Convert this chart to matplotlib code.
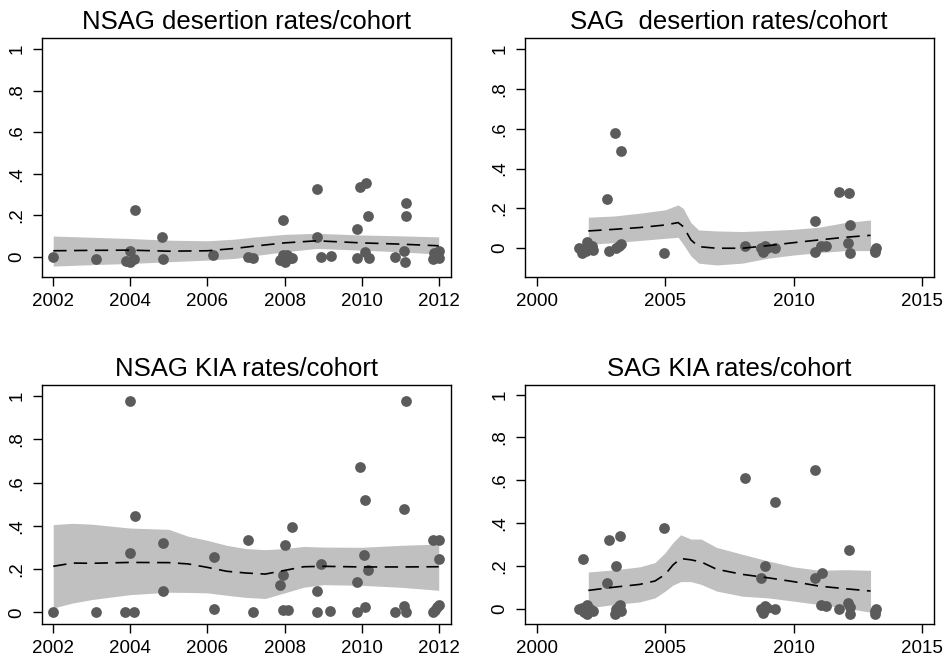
import numpy as np
import matplotlib
matplotlib.use("Agg")
import matplotlib.pyplot as plt

plt.rcParams['font.family'] = ['Liberation Sans', 'DejaVu Sans']

# NSAG desertion rates per cohort
nsag_des_year = [2002.0, 2003.12, 2003.9, 2004.0, 2004.1, 2004.0, 2004.12, 2004.83, 2004.85,
                 2006.15, 2007.06, 2007.19, 2007.97, 2007.87, 2007.97, 2008.07, 2008.14, 2008.2,
                 2008.0, 2008.83, 2008.85, 2008.94, 2009.2, 2009.89, 2009.89, 2009.96, 2010.11,
                 2010.09, 2010.16, 2010.19, 2010.87, 2011.14, 2011.14, 2011.1, 2011.12,
                 2011.84, 2011.87, 2012.0, 2012.02, 2011.93]
nsag_des_rate = [0.0, -0.01, -0.02, 0.03, -0.01, -0.025, 0.225, 0.096, -0.013,
                 0.008, 0.0, -0.008, 0.177, -0.015, 0.01, 0.01, -0.005, -0.005,
                 -0.025, 0.326, 0.096, 0.0, 0.005, 0.135, -0.005, 0.338, 0.357,
                 0.024, 0.196, -0.005, 0.0, 0.257, 0.198, 0.029, -0.024,
                 -0.01, 0.016, 0.03, -0.005, 0.008]
nsag_des_fit_x = [2002, 2003, 2004, 2005, 2006, 2006.7, 2007.2, 2008, 2008.83, 2010, 2011, 2012]
nsag_des_fit = [0.029, 0.031, 0.032, 0.027, 0.029, 0.04, 0.051, 0.067, 0.077, 0.067, 0.061, 0.053]
nsag_des_hi = [0.10, 0.094, 0.088, 0.08, 0.077, 0.085, 0.095, 0.108, 0.113, 0.105, 0.101, 0.096]
nsag_des_lo = [-0.045, -0.038, -0.032, -0.024, -0.016, -0.008, 0.005, 0.024, 0.04, 0.032, 0.024, 0.013]

# SAG desertion rates per cohort
sag_des_year = [2001.65, 2001.75, 2001.95, 2002.08, 2002.2, 2001.9, 2002.15, 2002.73, 2002.79,
                2003.03, 2003.29, 2003.09, 2003.18, 2003.27, 2004.94, 2008.12, 2008.74,
                2008.79, 2008.9, 2008.96, 2009.26, 2010.82, 2010.84, 2011.08, 2011.26,
                2011.78, 2012.17, 2012.21, 2012.14, 2012.18, 2013.16, 2013.22, 2013.18]
sag_des_rate = [0.0, -0.025, 0.033, 0.0, -0.008, -0.012, 0.01, 0.248, -0.012,
                0.578, 0.491, 0.0, 0.012, 0.02, -0.025, 0.012, 0.0,
                -0.017, 0.012, 0.0, 0.0, 0.139, -0.02, 0.012, 0.012,
                0.285, 0.276, 0.117, 0.028, -0.025, -0.02, 0.0, -0.01]
sag_des_fit_x = [2002, 2003, 2004, 2005, 2005.5, 2005.7, 2006, 2006.3, 2007, 2008, 2009, 2010, 2011, 2012, 2013]
sag_des_fit = [0.087, 0.095, 0.104, 0.117, 0.129, 0.109, 0.042, 0.008, 0.0, 0.0, 0.013, 0.028, 0.042, 0.055, 0.065]
sag_des_hi = [0.156, 0.162, 0.176, 0.193, 0.218, 0.2, 0.129, 0.092, 0.087, 0.084, 0.089, 0.095, 0.106, 0.129, 0.142]
sag_des_lo = [0.02, 0.028, 0.039, 0.05, 0.055, 0.02, -0.039, -0.075, -0.084, -0.075, -0.05, -0.034, -0.022, -0.012, -0.012]

# NSAG killed-in-action rates per cohort
nsag_kia_year = [2002.0, 2003.12, 2003.86, 2004.09, 2003.99, 2004.12, 2004.0, 2004.85, 2004.84,
                 2006.17, 2006.18, 2007.06, 2007.19, 2007.88, 2007.97, 2008.01, 2008.19,
                 2007.95, 2008.1, 2008.83, 2008.94, 2008.83, 2009.18, 2009.96, 2009.89,
                 2009.89, 2010.09, 2010.07, 2010.16, 2010.1, 2010.87, 2011.14, 2011.11,
                 2011.1, 2011.15, 2011.84, 2012.02, 2012.02, 2011.84, 2011.91, 2011.96, 2012.02]
nsag_kia_rate = [0.0, 0.0, 0.0, 0.0, 0.977, 0.444, 0.275, 0.321, 0.097,
                 0.258, 0.015, 0.333, 0.0, 0.125, 0.174, 0.313, 0.395,
                 0.009, 0.009, 0.097, 0.224, 0.0, 0.008, 0.671, 0.139,
                 0.0, 0.522, 0.265, 0.194, 0.023, 0.0, 0.977, 0.478,
                 0.028, 0.0, 0.333, 0.333, 0.248, 0.0, 0.012, 0.023, 0.032]
nsag_kia_fit_x = [2002, 2002.5, 2003, 2004, 2005, 2005.5, 2006, 2006.5, 2007, 2007.5, 2008, 2008.5, 2009, 2010, 2011, 2012]
nsag_kia_fit = [0.213, 0.228, 0.227, 0.231, 0.23, 0.224, 0.208, 0.19, 0.182, 0.177, 0.194, 0.211, 0.213, 0.21, 0.21, 0.211]
nsag_kia_hi = [0.406, 0.412, 0.408, 0.39, 0.384, 0.352, 0.333, 0.31, 0.295, 0.29, 0.295, 0.305, 0.302, 0.301, 0.31, 0.316]
nsag_kia_lo = [0.02, 0.043, 0.059, 0.082, 0.093, 0.092, 0.09, 0.079, 0.069, 0.064, 0.09, 0.116, 0.128, 0.125, 0.116, 0.102]

# SAG killed-in-action rates per cohort
sag_kia_year = [2001.79, 2001.65, 2001.75, 2001.95, 2001.95, 2002.08, 2002.2, 2001.85,
                2002.79, 2002.73, 2003.09, 2003.22, 2003.03, 2003.09, 2003.18, 2003.27, 2003.22,
                2004.94, 2008.12, 2008.74, 2008.9, 2008.74, 2008.79, 2008.9, 2008.96,
                2009.26, 2009.26, 2010.84, 2010.82, 2011.1, 2011.08, 2011.26, 2011.78,
                2012.17, 2012.14, 2012.21, 2012.18, 2013.16, 2013.22, 2013.18]
sag_kia_rate = [0.234, 0.0, 0.003, 0.019, -0.024, 0.0, -0.012, -0.016,
                0.32, 0.121, 0.2, 0.341, -0.024, 0.0, 0.011, -0.013, 0.019,
                0.375, 0.611, 0.141, 0.2, 0.0, -0.02, 0.011, 0.003,
                0.498, 0.0, 0.647, 0.141, 0.165, 0.019, 0.014, 0.0,
                0.273, 0.025, 0.006, -0.024, -0.024, 0.0, -0.012]
sag_kia_fit_x = [2002, 2003, 2004, 2004.6, 2005, 2005.3, 2005.6, 2006, 2006.4, 2007, 2008, 2009, 2010, 2011, 2012, 2013]
sag_kia_fit = [0.085, 0.1, 0.113, 0.129, 0.16, 0.204, 0.234, 0.228, 0.218, 0.184, 0.16, 0.144, 0.126, 0.105, 0.093, 0.082]
sag_kia_hi = [0.171, 0.181, 0.195, 0.215, 0.262, 0.309, 0.345, 0.325, 0.325, 0.286, 0.254, 0.223, 0.195, 0.179, 0.182, 0.179]
sag_kia_lo = [0.003, 0.019, 0.031, 0.05, 0.082, 0.11, 0.126, 0.126, 0.113, 0.082, 0.058, 0.05, 0.035, 0.019, 0.003, -0.017]

panels = [
    dict(title="NSAG desertion rates/cohort", x=nsag_des_year, y=nsag_des_rate,
         fx=nsag_des_fit_x, fy=nsag_des_fit, hi=nsag_des_hi, lo=nsag_des_lo,
         pos=[0.0441, 0.5782, 0.4328, 0.3634], xlim=(2001.70, 2012.31), ylim=(-0.096, 1.053),
         xticks=[2002, 2004, 2006, 2008, 2010, 2012]),
    dict(title="SAG  desertion rates/cohort", x=sag_des_year, y=sag_des_rate,
         fx=sag_des_fit_x, fy=sag_des_fit, hi=sag_des_hi, lo=sag_des_lo,
         pos=[0.5552, 0.5782, 0.4328, 0.3634], xlim=(1999.52, 2015.46), ylim=(-0.143, 1.055),
         xticks=[2000, 2005, 2010, 2015]),
    dict(title="NSAG KIA rates/cohort", x=nsag_kia_year, y=nsag_kia_rate,
         fx=nsag_kia_fit_x, fy=nsag_kia_fit, hi=nsag_kia_hi, lo=nsag_kia_lo,
         pos=[0.0441, 0.0488, 0.4328, 0.3639], xlim=(2001.70, 2012.31), ylim=(-0.054, 1.051),
         xticks=[2002, 2004, 2006, 2008, 2010, 2012]),
    dict(title="SAG KIA rates/cohort", x=sag_kia_year, y=sag_kia_rate,
         fx=sag_kia_fit_x, fy=sag_kia_fit, hi=sag_kia_hi, lo=sag_kia_lo,
         pos=[0.5552, 0.0488, 0.4328, 0.3639], xlim=(1999.52, 2015.46), ylim=(-0.072, 1.044),
         xticks=[2000, 2005, 2010, 2015]),
]

yticks = [0, 0.2, 0.4, 0.6, 0.8, 1.0]
ytick_labels = ["0", ".2", ".4", ".6", ".8", "1"]

fig = plt.figure(figsize=(9.45, 6.56), dpi=100)

for p in panels:
    ax = fig.add_axes(p["pos"])
    ax.fill_between(p["fx"], p["lo"], p["hi"], color="#c0c0c0", linewidth=0, zorder=1)
    ax.scatter(p["x"], p["y"], s=60, color="#5b5b5b", linewidths=0, zorder=2)
    ax.plot(p["fx"], p["fy"], color="black", linewidth=1.2, dashes=(8, 4.5), zorder=3)

    ax.set_xlim(*p["xlim"])
    ax.set_ylim(*p["ylim"])
    ax.set_xticks(p["xticks"])
    ax.set_yticks(yticks)
    ax.set_yticklabels(ytick_labels, rotation=90, va="center")
    ax.tick_params(length=6.5, width=1.0, pad=5, labelsize=13.5)
    for s in ax.spines.values():
        s.set_linewidth(1.0)
    ax.set_title(p["title"], fontsize=18.5, pad=7)

fig.savefig("out.png", dpi=100)
